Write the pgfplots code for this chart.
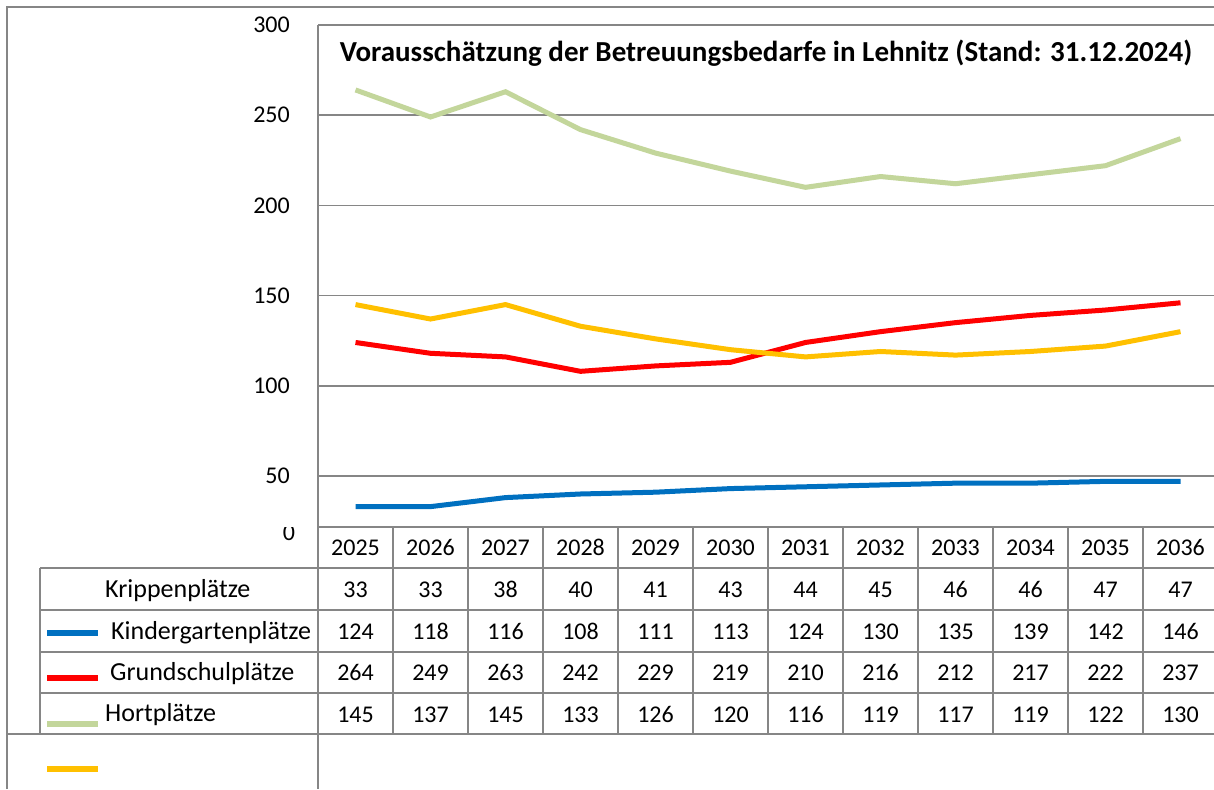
\documentclass[border=0pt]{standalone}
\usepackage{fontspec}
\setmainfont{Carlito}
\usepackage{pgfplots}
\pgfplotsset{compat=1.18}
\definecolor{gridc}{RGB}{134,134,134}
\definecolor{kblue}{RGB}{0,112,192}
\definecolor{kred}{RGB}{255,0,0}
\definecolor{kgreen}{RGB}{195,214,155}
\definecolor{kyellow}{RGB}{255,192,0}
\begin{document}
\begin{tikzpicture}
\useasboundingbox (0pt,0pt) rectangle (1214pt,-789pt);
\clip (0pt,0pt) rectangle (1214pt,-789pt);
\fill[white] (0pt,0pt) rectangle (1214pt,-789pt);
\begin{axis}[at={(318pt,-527pt)}, anchor=south west, scale only axis,
  width=900pt, height=502pt, xmin=-0.5, xmax=11.5, ymin=21.7, ymax=300,
  axis line style={draw=none}, xtick=\empty, ytick={50,100,...,300},
  ymajorgrids, grid style={gridc, line width=1.5pt}, major tick length=0pt,
  yticklabel style={anchor=east, inner sep=0pt, xshift=-28pt, font=\fontsize{24}{28}\selectfont},
  /pgf/number format/assume math mode=true, clip=false]
\addplot[kblue, line width=5pt] coordinates {(0,33) (1,33) (2,38) (3,40) (4,41) (5,43) (6,44) (7,45) (8,46) (9,46) (10,47) (11,47)};
\addplot[kred, line width=5pt] coordinates {(0,124) (1,118) (2,116) (3,108) (4,111) (5,113) (6,124) (7,130) (8,135) (9,139) (10,142) (11,146)};
\addplot[kgreen, line width=5pt] coordinates {(0,264) (1,249) (2,263) (3,242) (4,229) (5,219) (6,210) (7,216) (8,212) (9,217) (10,222) (11,237)};
\addplot[kyellow, line width=5pt] coordinates {(0,145) (1,137) (2,145) (3,133) (4,126) (5,120) (6,116) (7,119) (8,117) (9,119) (10,122) (11,130)};
\end{axis}
\begin{scope}[x=1pt,y=-1pt]
% frame and table lines
\begin{scope}[gridc, line width=1.5pt]
\draw (7,789) -- (7,7) -- (1220,7);
\draw (318,25) -- (318,789);
\draw (318,527) -- (1220,527);
\foreach \yy in {568,610,652,693} \draw (40,\yy) -- (1220,\yy);
\draw (7,734) -- (1220,734);
\draw (40,568) -- (40,734);
\foreach \k in {1,...,11} \draw (318+75*\k,527) -- (318+75*\k,734);
\end{scope}
% zero label, clipped
\begin{scope}
\clip (260,527) rectangle (316,560);
\node[font=\fontsize{24}{28}\selectfont, inner sep=0pt, anchor=base] at (289,540) {0};
\end{scope}
% title
\node[font=\bfseries\fontsize{29}{33}\selectfont, inner sep=0pt, anchor=base] at (766,62) {Vorausschätzung der Betreuungsbedarfe in Lehnitz (Stand: 31.12.2024)};
% table text
\begin{scope}[every node/.style={font=\fontsize{24}{28}\selectfont, inner sep=0pt, anchor=base}]
\foreach \v [count=\i from 0] in {2025,2026,2027,2028,2029,2030,2031,2032,2033,2034,2035,2036} \node at (355.5+75*\i,555) {\v};
\foreach \v [count=\i from 0] in {33,33,38,40,41,43,44,45,46,46,47,47} \node at (355.5+75*\i,597) {\v};
\foreach \v [count=\i from 0] in {124,118,116,108,111,113,124,130,135,139,142,146} \node at (355.5+75*\i,639) {\v};
\foreach \v [count=\i from 0] in {264,249,263,242,229,219,210,216,212,217,222,237} \node at (355.5+75*\i,680) {\v};
\foreach \v [count=\i from 0] in {145,137,145,133,126,120,116,119,117,119,122,130} \node at (355.5+75*\i,722) {\v};
\end{scope}
\begin{scope}[every node/.style={font=\fontsize{26}{30}\selectfont, inner sep=0pt, anchor=base west}]
\node at (105,597) {Krippenplätze};
\node at (111,639) {Kindergartenplätze};
\node at (110,680) {Grundschulplätze};
\node at (105,721) {Hortplätze};
\end{scope}
% legend keys
\draw[kblue, line width=6pt] (47,633) -- (98,633);
\draw[kred, line width=6pt] (47,678) -- (98,678);
\draw[kgreen, line width=6pt] (47,724) -- (98,724);
\draw[kyellow, line width=6pt] (47,769) -- (98,769);
\end{scope}
\end{tikzpicture}
\end{document}
